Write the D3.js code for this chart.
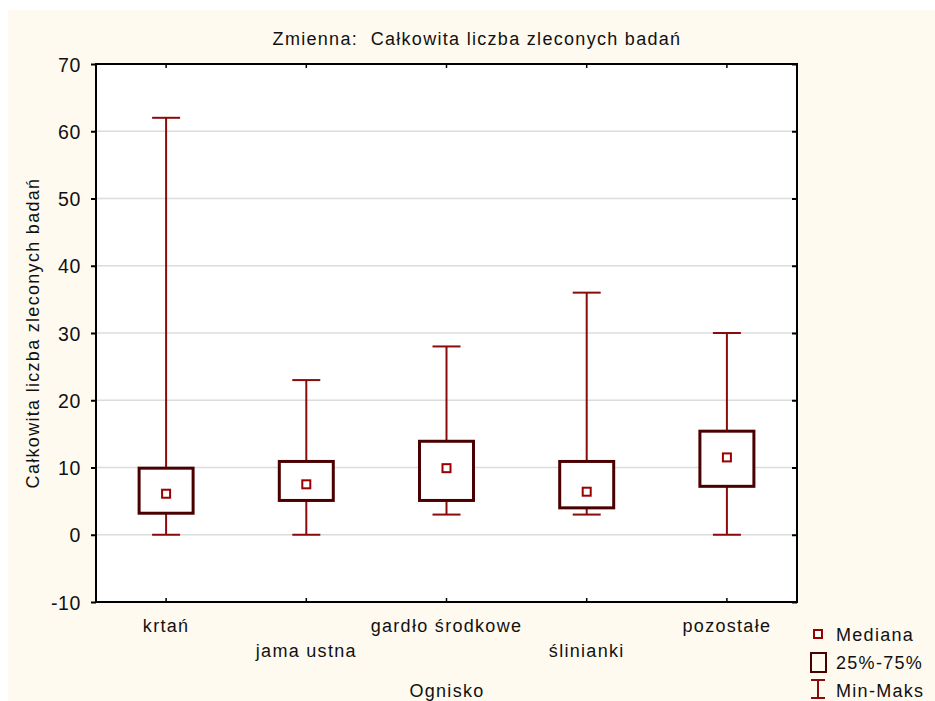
<!DOCTYPE html>
<html><head><meta charset="utf-8">
<script src="https://cdn.jsdelivr.net/npm/d3@7/dist/d3.min.js"></script>
<style>html,body{margin:0;padding:0;background:#fff;} text{letter-spacing:1.3px;}</style>
</head><body>
<svg id="c" width="935" height="701"></svg>
<script>
const categories = ["krtań","jama ustna","gardło środkowe","ślinianki","pozostałe"];
const minVals    = [0, 0, 3, 3, 0];
const maxVals    = [62, 23, 28, 36, 30];
const q1Vals     = [3.2, 5.1, 5.1, 4.0, 7.2];
const q3Vals     = [9.9, 10.9, 13.9, 10.9, 15.4];
const medVals    = [6.1, 7.5, 9.9, 6.4, 11.5];
const yTicks     = [-10,0,10,20,30,40,50,60,70];

const svg = d3.select("#c");
const font = "'Liberation Sans', Arial, sans-serif";
const fs = 18;
svg.append("rect").attr("x",8).attr("y",10).attr("width",927).attr("height",691).attr("fill","#fffaef");

const L=96, R=797, T=64, B=602;
const x = d3.scaleBand().domain(categories).range([L,R]);
const y = d3.scaleLinear().domain([-10,70]).range([B,T]);

const g = svg.append("g");
g.append("rect").attr("x",L).attr("y",T).attr("width",R-L).attr("height",B-T).attr("fill","#fff");
g.selectAll(".grid").data(yTicks.filter(t=>t>-10&&t<70)).enter().append("line")
 .attr("x1",L).attr("x2",R).attr("y1",d=>y(d)).attr("y2",d=>y(d))
 .attr("stroke","#dcdcdc").attr("stroke-width",1.5);

const ya = g.append("g").attr("transform",`translate(${L},0)`)
 .call(d3.axisLeft(y).tickValues(yTicks).tickSize(5).tickPadding(10).tickFormat(d=>String(d)));
ya.select(".domain").remove();
ya.selectAll("line").attr("stroke","#000").attr("stroke-width",2);
ya.selectAll("text").attr("font-family",font).attr("font-size",19.5).attr("fill","#111").attr("dy","0.36em").style("letter-spacing","0.6px");
const yr = g.append("g").attr("transform",`translate(${R},0)`)
 .call(d3.axisLeft(y).tickValues(yTicks).tickSize(5).tickFormat(""));
yr.select(".domain").remove();
yr.selectAll("line").attr("stroke","#000").attr("stroke-width",2);
const cx = d=>x(d)+x.bandwidth()/2;
const xb = g.append("g").attr("transform",`translate(0,${B})`)
 .call(d3.axisTop(x).tickSize(4).tickFormat(""));
xb.select(".domain").remove();
xb.selectAll("line").attr("stroke","#000").attr("stroke-width",1.5);
const xt = g.append("g").attr("transform",`translate(0,${T})`)
 .call(d3.axisBottom(x).tickSize(4).tickFormat(""));
xt.select(".domain").remove();
xt.selectAll("line").attr("stroke","#000").attr("stroke-width",1.5);

g.selectAll(".xl").data(categories).enter().append("text")
 .attr("x",d=>cx(d)).attr("y",(d,i)=> i%2===0 ? 632 : 657)
 .attr("text-anchor","middle").attr("font-family",font).attr("font-size",fs).attr("fill","#111")
 .text(d=>d);

const data = categories.map((c,i)=>({c,min:minVals[i],max:maxVals[i],q1:q1Vals[i],q3:q3Vals[i],med:medVals[i]}));
const wc = "#8b0a0a", bc = "#4a0000";
const bw = 54, capW = 28, ms = 8;
const bx = g.selectAll(".b").data(data).enter().append("g");
bx.append("line").attr("x1",d=>cx(d.c)).attr("x2",d=>cx(d.c)).attr("y1",d=>y(d.max)).attr("y2",d=>y(d.q3)).attr("stroke",wc).attr("stroke-width",2);
bx.append("line").attr("x1",d=>cx(d.c)).attr("x2",d=>cx(d.c)).attr("y1",d=>y(d.q1)).attr("y2",d=>y(d.min)).attr("stroke",wc).attr("stroke-width",2);
bx.append("line").attr("x1",d=>cx(d.c)-capW/2).attr("x2",d=>cx(d.c)+capW/2).attr("y1",d=>y(d.max)).attr("y2",d=>y(d.max)).attr("stroke",wc).attr("stroke-width",2);
bx.append("line").attr("x1",d=>cx(d.c)-capW/2).attr("x2",d=>cx(d.c)+capW/2).attr("y1",d=>y(d.min)).attr("y2",d=>y(d.min)).attr("stroke",wc).attr("stroke-width",2);
bx.append("rect").attr("x",d=>cx(d.c)-bw/2).attr("width",bw).attr("y",d=>y(d.q3)).attr("height",d=>y(d.q1)-y(d.q3))
 .attr("fill","#fff").attr("stroke",bc).attr("stroke-width",3);
bx.append("rect").attr("x",d=>cx(d.c)-ms/2).attr("width",ms).attr("y",d=>y(d.med)-ms/2).attr("height",ms)
 .attr("fill","#fff").attr("stroke","#9a0000").attr("stroke-width",2);

g.append("rect").attr("x",L).attr("y",T).attr("width",R-L).attr("height",B-T).attr("fill","none").attr("stroke","#000").attr("stroke-width",2);

svg.append("text").attr("x",477).attr("y",45).attr("text-anchor","middle").attr("font-family",font).attr("font-size",fs).attr("fill","#111")
 .attr("xml:space","preserve").text("Zmienna:  Całkowita liczba zleconych badań");
svg.append("text").attr("x",447).attr("y",697).attr("text-anchor","middle").attr("font-family",font).attr("font-size",fs).attr("fill","#111").text("Ognisko");
svg.append("text").attr("transform",`translate(39,${(T+B)/2}) rotate(-90)`).attr("text-anchor","middle").attr("font-family",font).attr("font-size",fs).attr("fill","#111").text("Całkowita liczba zleconych badań");

const lg = svg.append("g");
lg.append("rect").attr("x",814).attr("y",630).attr("width",8).attr("height",8).attr("fill","#fff").attr("stroke","#9a0000").attr("stroke-width",2);
lg.append("text").attr("x",836).attr("y",641).attr("font-family",font).attr("font-size",fs).attr("fill","#111").text("Mediana");
lg.append("rect").attr("x",811).attr("y",653).attr("width",15).attr("height",19).attr("fill","none").attr("stroke",bc).attr("stroke-width",2);
lg.append("text").attr("x",836).attr("y",669).attr("font-family",font).attr("font-size",fs).attr("fill","#111").text("25%-75%");
lg.append("line").attr("x1",818).attr("x2",818).attr("y1",680).attr("y2",698).attr("stroke",wc).attr("stroke-width",2);
lg.append("line").attr("x1",811).attr("x2",825).attr("y1",680).attr("y2",680).attr("stroke",wc).attr("stroke-width",2);
lg.append("line").attr("x1",811).attr("x2",825).attr("y1",698).attr("y2",698).attr("stroke",wc).attr("stroke-width",2);
lg.append("text").attr("x",836).attr("y",697).attr("font-family",font).attr("font-size",fs).attr("fill","#111").text("Min-Maks");
</script>
</body></html>
